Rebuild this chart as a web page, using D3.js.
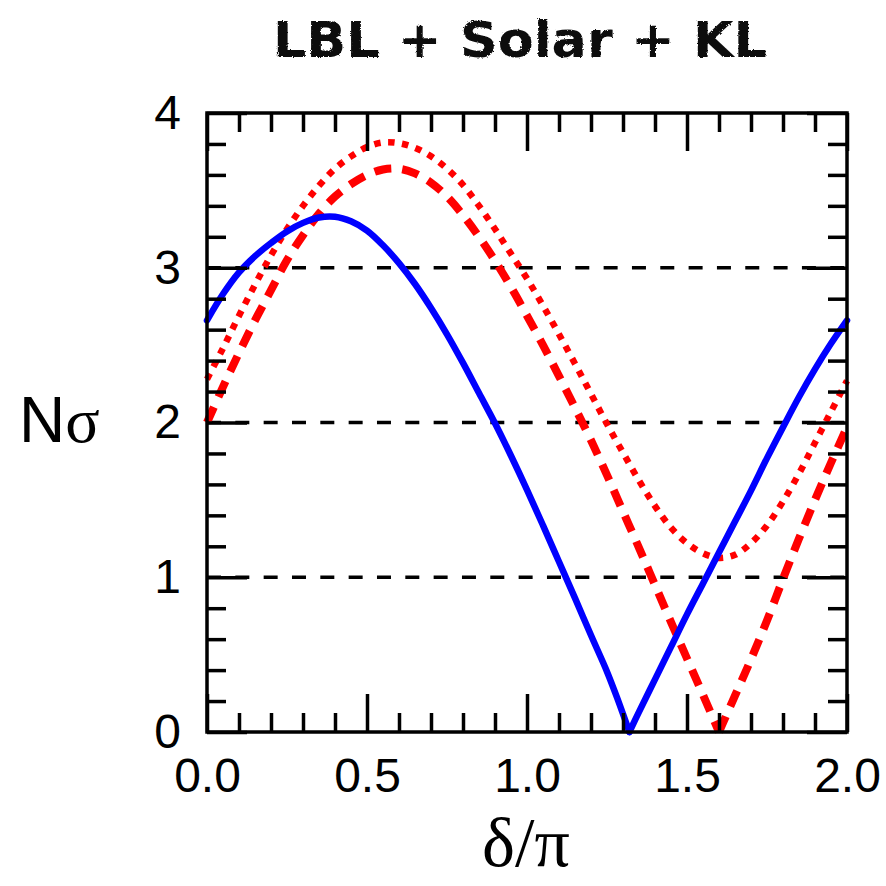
<!DOCTYPE html>
<html><head><meta charset="utf-8">
<script src="https://cdn.jsdelivr.net/npm/d3@7"></script>
<style>html,body{margin:0;padding:0;background:#fff;}</style>
</head><body>
<svg id="chart" width="886" height="886"></svg>
<script>
// ---- data ----
const deltaBlue = [0,0.05,0.1,0.15,0.2,0.25,0.3,0.35,0.4,0.45,0.5,0.55,0.6,0.65,0.7,0.75,0.8,0.85,0.9,0.95,1.0,1.05,1.1,1.15,1.2,1.25,1.28,1.32,1.35,1.4,1.45,1.5,1.55,1.6,1.65,1.7,1.75,1.8,1.85,1.9,1.95,2.0];
const nsigBlue  = [2.66,2.83,2.97,3.075,3.16,3.235,3.29,3.325,3.33,3.30,3.24,3.145,3.03,2.895,2.74,2.57,2.385,2.19,1.995,1.785,1.565,1.335,1.10,0.865,0.625,0.39,0.23,0.0,0.13,0.34,0.55,0.76,0.96,1.16,1.36,1.56,1.77,1.97,2.165,2.345,2.51,2.66];

const deltaRed = [0,0.05,0.1,0.15,0.2,0.25,0.3,0.35,0.4,0.45,0.5,0.55,0.6,0.65,0.7,0.75,0.8,0.85,0.9,0.95,1.0,1.05,1.1,1.15,1.2,1.25,1.3,1.35,1.4,1.45,1.5,1.55,1.6,1.65,1.7,1.75,1.8,1.85,1.9,1.95,2.0];
const nsigDashed = [2.00,2.23,2.45,2.66,2.855,3.05,3.21,3.35,3.46,3.54,3.60,3.635,3.64,3.61,3.55,3.46,3.34,3.20,3.045,2.875,2.69,2.50,2.30,2.095,1.885,1.66,1.425,1.19,0.95,0.71,0.475,0.24,0.0,0.235,0.47,0.72,0.99,1.25,1.50,1.74,1.97];
const nsigDotted = [2.28,2.48,2.69,2.89,3.08,3.25,3.40,3.53,3.64,3.72,3.78,3.81,3.805,3.775,3.72,3.64,3.535,3.40,3.25,3.09,2.93,2.755,2.57,2.38,2.185,1.99,1.805,1.625,1.46,1.32,1.22,1.155,1.125,1.145,1.22,1.335,1.49,1.67,1.87,2.07,2.27];

const xMajorTicks = [0,0.5,1.0,1.5,2.0];
const xTickLabels = ["0.0","0.5","1.0","1.5","2.0"];
const yMajorTicks = [0,1,2,3,4];
const yTickLabels = ["0","1","2","3","4"];
const gridLevels = [1,2,3];
const titleText = "LBL + Solar + KL";

// ---- layout ----
const L = 207, R = 847, T = 113, B = 732;
const svg = d3.select("#chart");
const x = d3.scaleLinear().domain([0,2]).range([L,R]);
const y = d3.scaleLinear().domain([0,4]).range([B,T]);

const xMinor = d3.range(0,21).map(i=>i/10).filter(v=>Math.abs(v*2-Math.round(v*2))>1e-6);
const yMinor = d3.range(0,21).map(i=>i/5).filter(v=>Math.abs(v-Math.round(v))>1e-6);

// filter for hand-drawn look of title
const defs = svg.append("defs");
const f = defs.append("filter").attr("id","rough").attr("x","-5%").attr("y","-20%").attr("width","110%").attr("height","140%");
f.append("feTurbulence").attr("type","fractalNoise").attr("baseFrequency","0.6").attr("numOctaves","2").attr("result","n");
f.append("feDisplacementMap").attr("in","SourceGraphic").attr("in2","n").attr("scale","3");

// grid dashed lines
svg.append("g").selectAll("line").data(gridLevels).join("line")
  .attr("x1",L).attr("x2",R).attr("y1",d=>y(d)).attr("y2",d=>y(d))
  .attr("stroke","#000").attr("stroke-width",3.5).attr("stroke-dasharray","14,14.33");

// curves: split at the minimum (V-shaped cusp) and smooth each branch
const line = d3.line().curve(d3.curveCatmullRom.alpha(0.5));
function branches(xs, ys){
  const pts = xs.map((d,i)=>[x(d),y(ys[i])]);
  const k = d3.minIndex(ys);
  return [pts.slice(0,k+1), pts.slice(k)];
}
function drawSeries(xs, ys, attrs){
  const g = svg.append("g").attr("fill","none");
  branches(xs, ys).forEach(p=>{
    const path = g.append("path").attr("d",line(p));
    Object.entries(attrs).forEach(([k,v])=>path.attr(k,v));
  });
}
drawSeries(deltaRed, nsigDashed, {"stroke":"#ff0000","stroke-width":8,"stroke-dasharray":"17,11"});
// dotted has a smooth minimum: draw in one piece
svg.append("path").attr("d",line(deltaRed.map((d,i)=>[x(d),y(nsigDotted[i])]))).attr("fill","none")
  .attr("stroke","#ff0000").attr("stroke-width",6.5).attr("stroke-dasharray","6.5,7.5");
drawSeries(deltaBlue, nsigBlue, {"stroke":"#0000ff","stroke-width":6.5,"stroke-linecap":"round","stroke-linejoin":"round"});

// axes (ticks inward)
function styleAxis(g){
  g.select(".domain").remove();
  g.selectAll(".tick line").attr("stroke","#000").attr("stroke-width",3.5);
}
const fontTicks = "'Liberation Sans', Arial, Helvetica, sans-serif";

svg.append("g").attr("transform",`translate(0,${B})`)
  .call(d3.axisBottom(x).tickValues(xMinor).tickSize(-19).tickFormat("")).call(styleAxis);
svg.append("g").attr("transform",`translate(0,${T})`)
  .call(d3.axisTop(x).tickValues(xMinor).tickSize(-19).tickFormat("")).call(styleAxis);
svg.append("g").attr("transform",`translate(${L},0)`)
  .call(d3.axisLeft(y).tickValues(yMinor).tickSize(-19).tickFormat("")).call(styleAxis);
svg.append("g").attr("transform",`translate(${R},0)`)
  .call(d3.axisRight(y).tickValues(yMinor).tickSize(-19).tickFormat("")).call(styleAxis);

const gxb = svg.append("g").attr("transform",`translate(0,${B})`)
  .call(d3.axisBottom(x).tickValues(xMajorTicks).tickSize(-38).tickPadding(26)
    .tickFormat((d,i)=>xTickLabels[i])).call(styleAxis);
gxb.selectAll("text").attr("font-family",fontTicks).attr("font-size",48).attr("fill","#000");
svg.append("g").attr("transform",`translate(0,${T})`)
  .call(d3.axisTop(x).tickValues(xMajorTicks).tickSize(-38).tickFormat("")).call(styleAxis);
const gyl = svg.append("g").attr("transform",`translate(${L},0)`)
  .call(d3.axisLeft(y).tickValues(yMajorTicks).tickSize(-40).tickPadding(26)
    .tickFormat((d,i)=>yTickLabels[i])).call(styleAxis);
gyl.selectAll("text").attr("font-family",fontTicks).attr("font-size",48).attr("fill","#000");
svg.append("g").attr("transform",`translate(${R},0)`)
  .call(d3.axisRight(y).tickValues(yMajorTicks).tickSize(-40).tickFormat("")).call(styleAxis);

// frame
svg.append("rect").attr("x",L).attr("y",T).attr("width",R-L).attr("height",B-T)
  .attr("fill","none").attr("stroke","#000").attr("stroke-width",3.5);

// y label N sigma
const yl = svg.append("text").attr("x",19).attr("y",442).attr("font-size",64).attr("fill","#000");
yl.append("tspan").attr("font-family",fontTicks).text("N");
yl.append("tspan").attr("font-family","'Liberation Serif', 'Times New Roman', serif").text("σ");

// x label delta/pi
svg.append("text").attr("x",526).attr("y",866).attr("text-anchor","middle")
  .attr("font-family","'Liberation Serif', 'Times New Roman', serif").attr("font-size",70)
  .attr("fill","#000").text("δ/π");

// title
svg.append("text").attr("x",520).attr("y",57).attr("text-anchor","middle")
  .attr("font-family","'DejaVu Sans', sans-serif").attr("font-weight","bold").attr("font-size",50)
  .attr("textLength",494).attr("lengthAdjust","spacingAndGlyphs")
  .attr("filter","url(#rough)").attr("fill","#111").text(titleText);
</script>
</body></html>
